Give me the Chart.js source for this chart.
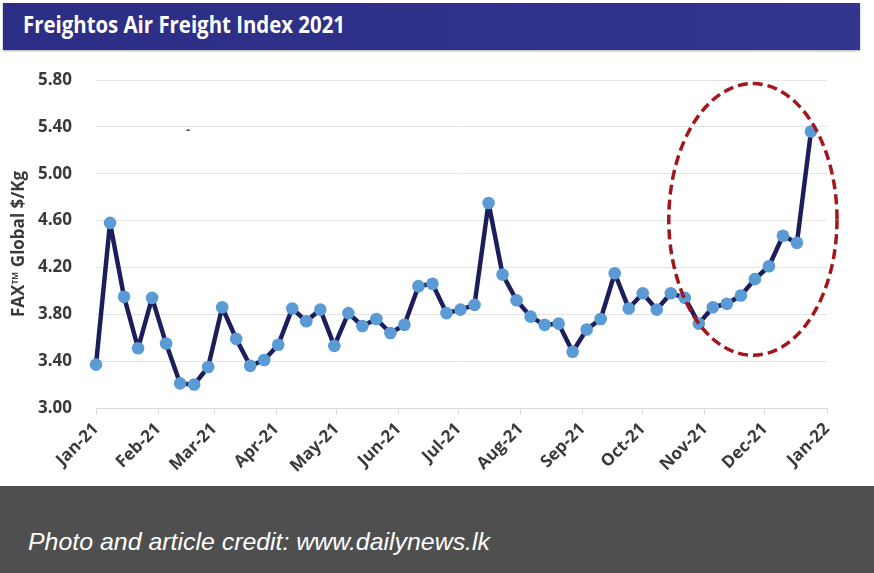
<!DOCTYPE html>
<html>
<head>
<meta charset="utf-8">
<script src="https://cdn.jsdelivr.net/npm/chart.js@4.4.1/dist/chart.umd.min.js"></script>
<style>
  html, body { margin: 0; padding: 0; background: #ffffff; }
  #wrap { position: relative; width: 874px; height: 573px; overflow: hidden; background: #fff; }
  #bar { position: absolute; left: 3px; top: 3px; width: 857px; height: 47px;
         background: linear-gradient(90deg, #2c2d84, #30318a 60%, #33358e); box-shadow: 0 1px 2px rgba(0,0,0,0.35); }
  #title { position: absolute; left: 23px; top: 13px; font-family: 'Open Sans', sans-serif; font-weight: 700;
           font-size: 23px; line-height: 23px; color: #ffffff; white-space: nowrap; transform-origin: 0 0; }
  #chart { position: absolute; left: 0; top: 0; }
  #band { position: absolute; left: 0; top: 486px; width: 874px; height: 87px; background: #4f4f4f; }
  #credit { position: absolute; left: 28px; top: 530px; font-family: 'Liberation Sans', Arial, sans-serif; font-style: italic;
            font-size: 24px; line-height: 24px; color: #ffffff; white-space: nowrap; transform-origin: 0 0; }
</style>
</head>
<body>
<div id="wrap">
  <div id="bar"></div>
  <div id="title">Freightos Air Freight Index 2021</div>
  <canvas id="chart" width="874" height="486"></canvas>
  <div id="band"></div>
  <div id="credit">Photo and article credit: www.dailynews.lk</div>
</div>
<script>
// ---- data ----
const weekDates = [
  "2021-01-01","2021-01-08","2021-01-15","2021-01-22","2021-01-29",
  "2021-02-05","2021-02-12","2021-02-19","2021-02-26",
  "2021-03-05","2021-03-12","2021-03-19","2021-03-26",
  "2021-04-02","2021-04-09","2021-04-16","2021-04-23","2021-04-30",
  "2021-05-07","2021-05-14","2021-05-21","2021-05-28",
  "2021-06-04","2021-06-11","2021-06-18","2021-06-25",
  "2021-07-02","2021-07-09","2021-07-16","2021-07-23","2021-07-30",
  "2021-08-06","2021-08-13","2021-08-20","2021-08-27",
  "2021-09-03","2021-09-10","2021-09-17","2021-09-24",
  "2021-10-01","2021-10-08","2021-10-15","2021-10-22","2021-10-29",
  "2021-11-05","2021-11-12","2021-11-19","2021-11-26",
  "2021-12-03","2021-12-10","2021-12-17","2021-12-24"
];
const faxValues = [
  3.37, 4.58, 3.95, 3.51, 3.94,
  3.55, 3.21, 3.20, 3.35,
  3.86, 3.59, 3.36, 3.41,
  3.54, 3.85, 3.74, 3.84, 3.53,
  3.81, 3.70, 3.76, 3.64,
  3.71, 4.04, 4.06, 3.81,
  3.84, 3.88, 4.75, 4.14, 3.92,
  3.78, 3.71, 3.72, 3.48,
  3.67, 3.76, 4.15, 3.85,
  3.98, 3.84, 3.98, 3.94, 3.72,
  3.86, 3.89, 3.96, 4.10,
  4.21, 4.47, 4.41, 5.36
];
const monthTickDates = ["2021-01-01","2021-02-01","2021-03-01","2021-04-01","2021-05-01","2021-06-01",
  "2021-07-01","2021-08-01","2021-09-01","2021-10-01","2021-11-01","2021-12-01","2022-01-01"];
const monthTickLabels = ["Jan-21","Feb-21","Mar-21","Apr-21","May-21","Jun-21",
  "Jul-21","Aug-21","Sep-21","Oct-21","Nov-21","Dec-21","Jan-22"];
const yTicks = [3.00, 3.40, 3.80, 4.20, 4.60, 5.00, 5.40, 5.80];
// highlight ellipse (data coords: day of year, value)
const highlightCenter = [328, 4.61];
const highlightRadius = [42, 1.16];

// ---- helpers ----
const base = Date.UTC(2021, 0, 1);
function dayOf(s) { const p = s.split('-').map(Number); return (Date.UTC(p[0], p[1]-1, p[2]) - base) / 86400000; }
const points = weekDates.map((d, i) => ({ x: dayOf(d), y: faxValues[i] }));
const tickDays = monthTickDates.map(dayOf);

const ellipsePlugin = {
  id: 'highlightEllipse',
  afterDatasetsDraw(chart) {
    const { ctx, scales: { x, y } } = chart;
    const cx = x.getPixelForValue(highlightCenter[0]);
    const cy = y.getPixelForValue(highlightCenter[1]);
    const rx = Math.abs(x.getPixelForValue(highlightCenter[0] + highlightRadius[0]) - cx);
    const ry = Math.abs(y.getPixelForValue(highlightCenter[1] + highlightRadius[1]) - cy);
    ctx.save();
    ctx.beginPath();
    ctx.ellipse(cx, cy, rx, ry, 0, 0, Math.PI * 2);
    ctx.setLineDash([10, 5]);
    ctx.lineWidth = 3.5;
    ctx.strokeStyle = '#a3161d';
    ctx.stroke();
    ctx.restore();
    // small stray dash mark in the original
    ctx.save();
    ctx.fillStyle = '#404040';
    ctx.font = "bold 12px 'Open Sans'";
    ctx.textAlign = 'center';
    ctx.textBaseline = 'middle';
    ctx.fillText('-', x.getPixelForValue(46), y.getPixelForValue(5.37));
    ctx.restore();
  }
};

Chart.defaults.font.family = "'Open Sans', sans-serif";
Chart.defaults.color = '#404040';

new Chart(document.getElementById('chart'), {
  type: 'line',
  data: {
    datasets: [{
      data: points,
      clip: false,
      borderColor: '#1c1e5c',
      borderWidth: 4.5,
      borderJoinStyle: 'round',
      borderCapStyle: 'round',
      pointBackgroundColor: '#5b9bd5',
      pointBorderColor: '#5b9bd5',
      pointBorderWidth: 0,
      pointRadius: 6.3,
      tension: 0,
      fill: false
    }]
  },
  options: {
    responsive: false,
    animation: false,
    layout: { padding: { left: 0, right: 47, top: 80, bottom: 0 } },
    plugins: { legend: { display: false }, tooltip: { enabled: false } },
    scales: {
      x: {
        type: 'linear',
        min: 0, max: 365,
        afterBuildTicks(scale) { scale.ticks = tickDays.map(v => ({ value: v })); },
        afterFit(scale) { scale.height = 78; },
        ticks: {
          autoSkip: false, minRotation: 45, maxRotation: 45, padding: 5,
          font: { size: 17, weight: 'bold' }, color: '#3a3a3a',
          callback(v) { const i = tickDays.indexOf(v); return i >= 0 ? monthTickLabels[i] : ''; }
        },
        grid: { display: true, drawOnChartArea: false, drawTicks: true, tickLength: 6, color: '#d9d9d9' },
        border: { display: true, color: '#d9d9d9' }
      },
      y: {
        min: 3.0, max: 5.8,
        afterBuildTicks(scale) { scale.ticks = yTicks.map(v => ({ value: v })); },
        afterFit(scale) { scale.width = 96; },
        ticks: { padding: 24, font: { size: 17, weight: 'bold' }, color: '#3a3a3a',
                 callback(v) { return Number(v).toFixed(2); } },
        grid: { color: '#e4e4e4', lineWidth: 1, drawTicks: false },
        border: { display: false },
        title: { display: true, text: 'FAX™ Global $/Kg', color: '#3a3a3a',
                 font: { size: 17, weight: 'bold' }, padding: { top: 9, bottom: 0 } }
      }
    }
  },
  plugins: [ellipsePlugin]
});

// fit header / credit texts to reference widths
function fit(id, w) { const el = document.getElementById(id); const cur = el.getBoundingClientRect().width; el.style.transform = 'scaleX(' + (w / cur) + ')'; }
fit('title', 322);
fit('credit', 462);
</script>
</body>
</html>
